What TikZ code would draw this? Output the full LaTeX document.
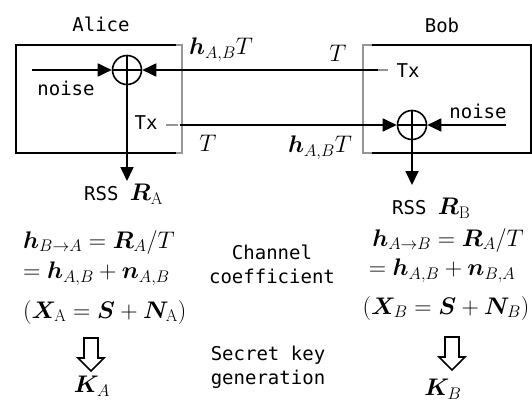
\RequirePackage{fix-cm}
\documentclass[tikz,border=0pt]{standalone}
\usepackage{amsmath}
\usepackage{bm}
\usepackage{fontspec}
\setmonofont{DejaVu Sans Mono}
\usetikzlibrary{arrows.meta}
\definecolor{EdgeGray}{RGB}{150,150,150}

\begin{document}
\begin{tikzpicture}[x=1pt, y=-1pt,
    lbl/.style={font=\fontsize{19}{24}\selectfont\ttfamily, inner sep=0},
    eq/.style={font=\fontsize{24}{28}\selectfont, inner sep=0},
    box/.style={draw, line width=1.2pt},
    brk/.style={draw=EdgeGray, line width=1.4pt},
    sum/.style={circle, draw, line width=1.6pt, minimum size=29pt, inner sep=0,
                path picture={\draw[line width=1.6pt]
                  (path picture bounding box.north) -- (path picture bounding box.south)
                  (path picture bounding box.west) -- (path picture bounding box.east);}},
    arr/.style={-{Triangle[length=14pt, width=13pt]}, line width=1.8pt},
    hollow/.pic={\draw[line width=1.6pt, line join=miter]
                   (-7,0) -- (-7,20) -- (-13,20) -- (0,33) -- (13,20) -- (7,20) -- (7,0) -- cycle;}
  ]
  \useasboundingbox (0,0) rectangle (532,401);

  % Alice and Bob
  \draw[box] (176,45) -- (16,45) -- (16,153) -- (176,153);
  \draw[brk] (176,45) -- (182,45) -- (182,153) -- (176,153);
  \draw[box] (372,45) -- (531,45) -- (531,153) -- (372,153);
  \draw[brk] (372,45) -- (363,45) -- (363,153) -- (372,153);

  \node[lbl] (alice) at (101,24) {Alice};
  \node[lbl] (bob)   at (442,25) {Bob};

  \node[sum] (sumA) at (127,70) {};
  \node[sum] (sumB) at (412,125) {};

  \node[lbl] (noiseA) at (66,88)   {noise};
  \node[lbl] (noiseB) at (478,111) {noise};
  \node[lbl] (txA)    at (146,123) {Tx};
  \node[lbl] (txB)    at (408,71)  {Tx};

  \coordinate (inA)  at (32,70);
  \coordinate (inB)  at (506,125);
  \coordinate (outA) at (180,125);
  \coordinate (outB) at (378,70);
  \coordinate (rA)   at (127,181);
  \coordinate (rB)   at (412,185);

  \draw[brk] (166,125) -- (178,125);
  \draw[brk] (outB) -- ++(10,0);

  \draw[arr] (inA)  -- (sumA);
  \draw[arr] (outB) -- (sumA);
  \draw[arr] (outA) -- (sumB);
  \draw[arr] (inB)  -- (sumB);
  \draw[arr] (sumA) -- (rA);
  \draw[arr] (sumB) -- (rB);

  % channel labels
  \node[eq] (hTup)  at (221,50)  {$\bm{h}_{A,B}T$};
  \node[eq] (Tup)   at (338,53)  {$T$};
  \node[eq] (Tlow)  at (208,143) {$T$};
  \node[eq] (hTlow) at (320,148) {$\bm{h}_{A,B}T$};

  \node[lbl, anchor=west] (rssA) at (84,194)
    {RSS {\fontsize{24}{28}\selectfont$\bm{R}_{\mathrm{A}}$}};
  \node[lbl, anchor=west] (rssB) at (392,208)
    {RSS {\fontsize{24}{28}\selectfont$\bm{R}_{\mathrm{B}}$}};

  % estimates
  \node[eq, anchor=west] (eqA1) at (23,242) {$\bm{h}_{B\to A}=\bm{R}_A/T$};
  \node[eq, anchor=west] (eqA2) at (23,274) {$=\bm{h}_{A,B}+\bm{n}_{A,B}$};
  \node[eq, anchor=west] (eqA3) at (23,312) {$(\bm{X}_{\mathrm{A}}=\bm{S}+\bm{N}_{\mathrm{A}})$};
  \node[eq] (eqB1) at (448,240) {$\bm{h}_{A\to B}=\bm{R}_A/T$};
  \node[eq] (eqB2) at (442,271) {$=\bm{h}_{A,B}+\bm{n}_{B,A}$};
  \node[eq] (eqB3) at (446,308) {$(\bm{X}_B=\bm{S}+\bm{N}_B)$};

  \pic at (91,338) {hollow};
  \pic at (452,337) {hollow};
  \node[eq] (KA) at (92,386) {$\bm{K}_A$};
  \node[eq] (KB) at (443,389) {$\bm{K}_B$};

  \node[lbl, align=center] (chan) at (272,264) {Channel\\coefficient};
  \node[lbl, align=center] (gen)  at (268,367) {Secret key\\generation};
\end{tikzpicture}
\end{document}
